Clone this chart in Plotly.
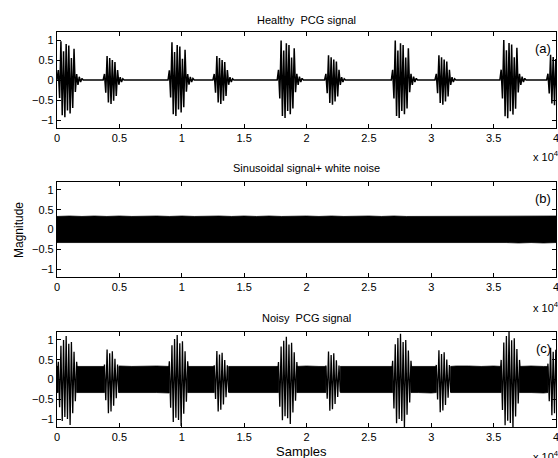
import numpy as np
import plotly.graph_objects as go

# ---------------- data ----------------
TOTAL_SAMPLES = 40000
x_tick_vals = [0, 5000, 10000, 15000, 20000, 25000, 30000, 35000, 40000]
x_tick_text = ["0", "0.5", "1", "1.5", "2", "2.5", "3", "3.5", "4"]
y_tick_vals = [-1, -0.5, 0, 0.5, 1]
y_tick_text = ["\u22121", "\u22120.5", "0", "0.5", "1"]

titles = ["Healthy  PCG signal", "Sinusoidal signal+ white noise", "Noisy  PCG signal"]
panel_tags = ["(a)", "(b)", "(c)"]

# burst onsets (samples)
s1_starts = [0, 8900, 17650, 26800, 35500]
s2_starts = [3700, 12500, 21450, 30300, 39250]
half_period = 105  # samples between successive peaks

# peak sequence of an S1 / S2 sound in the healthy record
s1_peaks = [0.25, -0.45, 0.97, -0.88, 0.72, -0.93, 0.9, -0.76, 0.86, -0.84,
            0.55, -0.7, 0.78, -0.3, 0.15, -0.12, 0.08, -0.05, 0.04]
s2_peaks = [0.15, -0.32, 0.6, -0.56, 0.55, -0.6, 0.5, -0.52, 0.45, -0.4,
            0.25, -0.12, 0.07, -0.05, 0.03]
s1_scale_a = [1.0, 0.97, 1.02, 1.02, 1.03]
s2_scale_a = [1.0, 1.0, 1.03, 1.03, 1.05]

# peak sequence of S1 / S2 in the noisy record
s1_peaks_c = [0.45, -0.7, 0.85, -1.05, 1.0, -0.95, 1.1, -1.0, 0.9, -1.15,
              0.95, -0.85, 0.7, -0.55, 0.45]
s2_peaks_c = [0.4, -0.55, 0.8, -0.9, 0.7, -0.85, 0.75, -0.7, 0.55, -0.5,
              0.4, -0.35]
s1_scale_c = [1.0, 1.02, 0.98, 1.05, 1.1]
s2_scale_c = [0.95, 0.9, 0.88, 0.92, 1.0]

# envelope of the sinusoid + white-noise band, every 1000 samples
band_x = list(range(0, 41000, 1000))
band_upper = [0.33, 0.34, 0.33, 0.34, 0.33, 0.34, 0.33, 0.34, 0.34, 0.33, 0.34,
              0.33, 0.34, 0.34, 0.33, 0.34, 0.33, 0.34, 0.33, 0.34, 0.34, 0.33,
              0.34, 0.33, 0.34, 0.34, 0.33, 0.34, 0.33, 0.33, 0.34, 0.33, 0.34,
              0.34, 0.33, 0.34, 0.33, 0.34, 0.34, 0.33, 0.34]
band_lower = [-0.33, -0.33, -0.34, -0.33, -0.34, -0.33, -0.34, -0.33, -0.33, -0.34,
              -0.33, -0.34, -0.33, -0.34, -0.33, -0.33, -0.34, -0.33, -0.34, -0.33,
              -0.34, -0.33, -0.33, -0.34, -0.33, -0.34, -0.33, -0.34, -0.33, -0.33,
              -0.34, -0.33, -0.34, -0.33, -0.34, -0.33, -0.33, -0.34, -0.33, -0.34,
              -0.33]


# ---------------- build traces ----------------
def build_signal(bursts):
    bursts = sorted(bursts, key=lambda b: b[0])
    xs, ys = [0], [0.0]
    for start, peaks, scale in bursts:
        xs.append(start); ys.append(0.0)
        for k, p in enumerate(peaks):
            xs.append(start + (k + 1) * half_period)
            ys.append(p * scale)
        xs.append(start + (len(peaks) + 1) * half_period); ys.append(0.0)
    xs.append(TOTAL_SAMPLES + 2000); ys.append(0.0)
    return xs, ys


bursts_a = [(s, s1_peaks, sc) for s, sc in zip(s1_starts, s1_scale_a)] + \
           [(s, s2_peaks, sc) for s, sc in zip(s2_starts, s2_scale_a)]
bursts_c = [(s, s1_peaks_c, sc) for s, sc in zip(s1_starts, s1_scale_c)] + \
           [(s, s2_peaks_c, sc) for s, sc in zip(s2_starts, s2_scale_c)]

xa, ya = build_signal(bursts_a)
xc, yc = build_signal(bursts_c)

# band polygon for panel (b)
poly_bx = band_x + band_x[::-1] + [band_x[0]]
poly_by = band_upper + band_lower[::-1] + [band_upper[0]]

# band polygons for panel (c): interrupted where the heart sounds are
gaps = sorted([(s + half_period, s + len(s1_peaks_c) * half_period) for s in s1_starts] +
              [(s + half_period, s + len(s2_peaks_c) * half_period) for s in s2_starts])
segments = []
cur = 0
for g0, g1 in gaps:
    if g0 > cur:
        segments.append((cur, g0))
    cur = max(cur, g1)
if cur < TOTAL_SAMPLES:
    segments.append((cur, TOTAL_SAMPLES + 1000))
pcx, pcy = [], []
for a0, a1 in segments:
    idx = [i for i, v in enumerate(band_x) if a0 < v < a1]
    ux = [a0] + [band_x[i] for i in idx] + [a1]
    uy = [0.33] + [band_upper[i] for i in idx] + [0.33]
    ly = [-0.33] + [band_lower[i] for i in idx] + [-0.33]
    pcx += ux + ux[::-1] + [ux[0], None]
    pcy += uy + ly[::-1] + [uy[0], None]

fig = go.Figure()
fig.add_trace(go.Scatter(x=xa, y=ya, mode="lines", line=dict(color="black", width=1.5),
                         xaxis="x", yaxis="y", showlegend=False, hoverinfo="skip"))
fig.add_trace(go.Scatter(x=poly_bx, y=poly_by, mode="lines", fill="toself",
                         fillcolor="black", line=dict(color="black", width=0.8),
                         xaxis="x2", yaxis="y2", showlegend=False, hoverinfo="skip"))
fig.add_trace(go.Scatter(x=pcx, y=pcy, mode="lines", fill="toself",
                         fillcolor="black", line=dict(color="black", width=0.8),
                         xaxis="x3", yaxis="y3", showlegend=False, hoverinfo="skip"))
fig.add_trace(go.Scatter(x=xc, y=yc, mode="lines", line=dict(color="black", width=1.3),
                         xaxis="x3", yaxis="y3", showlegend=False, hoverinfo="skip"))

FONT = "Liberation Sans, Arial, Helvetica, sans-serif"
tickfont = dict(family=FONT, size=11, color="black")


def xaxis_style(anchor):
    return dict(range=[0, TOTAL_SAMPLES], tickvals=x_tick_vals, ticktext=x_tick_text,
                ticks="inside", ticklen=4, tickcolor="black", tickwidth=1,
                showline=True, linecolor="black", linewidth=1.2, mirror="allticks",
                showgrid=False, zeroline=False, tickfont=tickfont, anchor=anchor,
                ticklabeloverflow="allow", automargin=False, domain=[0, 1])


def yaxis_style(anchor, dom):
    return dict(range=[-1.2, 1.2], tickvals=y_tick_vals, ticktext=y_tick_text,
                ticks="inside", ticklen=4, tickcolor="black", tickwidth=1,
                showline=True, linecolor="black", linewidth=1.2, mirror="allticks",
                showgrid=False, zeroline=False, tickfont=tickfont, anchor=anchor,
                automargin=False, domain=dom)


# pixel layout: plot area x 57..556, y 32..427
top_px, bot_px = 32, 427
H = bot_px - top_px


def py(px):
    return (bot_px - px) / H


doms = [[py(128), py(32)], [py(277), py(182)], [py(427), py(332)]]

fig.update_layout(
    width=558, height=458,
    margin=dict(l=57, r=2, t=top_px, b=458 - bot_px),
    paper_bgcolor="white", plot_bgcolor="white",
    xaxis=xaxis_style("y"), yaxis=yaxis_style("x", doms[0]),
    xaxis2=xaxis_style("y2"), yaxis2=yaxis_style("x2", doms[1]),
    xaxis3=xaxis_style("y3"), yaxis3=yaxis_style("x3", doms[2]),
)

title_y = [py(20), py(168), py(318)]
tag_y = [py(48), py(198), py(348)]
exp_y = [py(156), py(307), py(456)]
ann = []
for i in range(3):
    ann.append(dict(text=titles[i], xref="paper", yref="paper", x=0.5, y=title_y[i],
                    xanchor="center", yanchor="middle", showarrow=False,
                    font=dict(family=FONT, size=11, color="black")))
    ann.append(dict(text=panel_tags[i], xref="paper", yref="paper", x=(543 - 57) / 499,
                    y=tag_y[i], xanchor="center", yanchor="middle", showarrow=False,
                    font=dict(family=FONT, size=13, color="black")))
    ann.append(dict(text="x 10<sup>4</sup>", xref="paper", yref="paper",
                    x=(531 - 57) / 499, y=exp_y[i], xanchor="left", yanchor="middle",
                    showarrow=False, font=dict(family=FONT, size=11, color="black")))
ann.append(dict(text="Magnitude", xref="paper", yref="paper", x=(19 - 57) / 499,
                y=py(230), xanchor="center", yanchor="middle", textangle=-90,
                showarrow=False, font=dict(family=FONT, size=12, color="black")))
ann.append(dict(text="Samples", xref="paper", yref="paper", x=(301 - 57) / 499,
                y=py(451), xanchor="center", yanchor="middle", showarrow=False,
                font=dict(family=FONT, size=13, color="black")))
fig.update_layout(annotations=ann)

fig.write_html("out.html", config={"displayModeBar": False},
               post_script="document.body.style.margin='0';"
                           "document.body.style.overflow='hidden';")
